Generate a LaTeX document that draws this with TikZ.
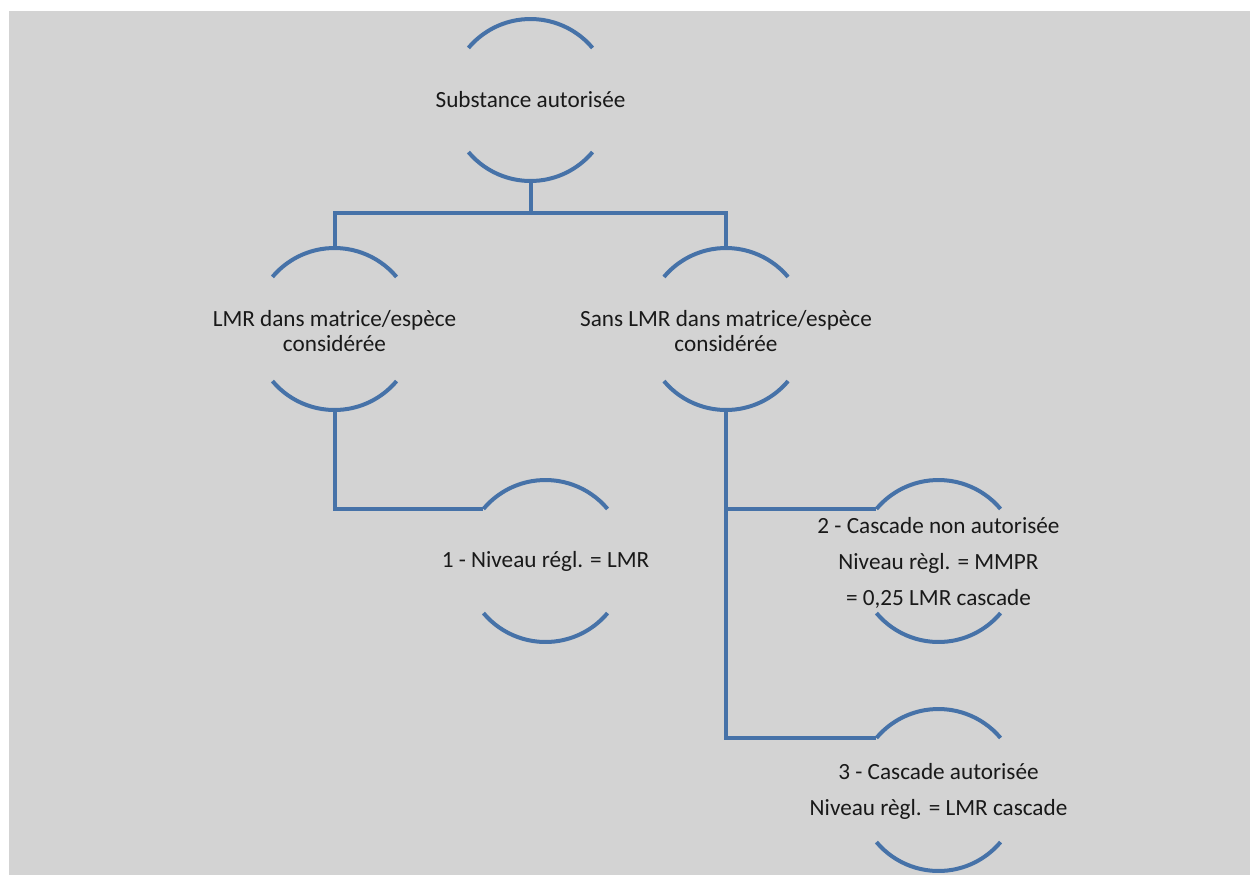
\documentclass[tikz,border=0pt]{standalone}
\usepackage{fontspec}
\setmainfont{Carlito}
\definecolor{bg}{RGB}{211,211,211}
\definecolor{ln}{RGB}{70,114,168}
\definecolor{tx}{RGB}{25,25,25}
\tikzset{
  ring/.style={circle, draw=none, minimum size=81pt, inner sep=0pt, outer sep=0pt},
  lbl/.style={align=center, text=tx, font=\fontsize{11.6}{12.3}\selectfont, inner sep=0pt},
  lbl2/.style={align=center, text=tx, font=\fontsize{11.6}{18}\selectfont, inner sep=0pt},
  arcline/.style={draw=ln, line width=2pt},
  conn/.style={draw=ln, line width=2pt}
}
\newcommand{\ringarcs}[1]{%
  \draw[arcline] (#1.40) arc[start angle=40,end angle=140,radius=40.5pt];
  \draw[arcline] (#1.220) arc[start angle=220,end angle=320,radius=40.5pt];
}
\begin{document}
\begin{tikzpicture}[x=0.5pt,y=0.5pt]
\useasboundingbox (0,0) rectangle (1250,-875);
\fill[bg] (9,-11) rectangle (1250,-875);

\node[ring] (top) at (530.5,-100) {};
\node[ring] (lmr) at (334.5,-329) {};
\node[ring] (sans) at (726,-329) {};
\node[ring] (n1) at (545.5,-561) {};
\node[ring] (n2) at (938.5,-561) {};
\node[ring] (n3) at (938.5,-790) {};

\foreach \n in {top,lmr,sans,n1,n2,n3} {\ringarcs{\n}}

\node[lbl] (topt) at (530.5,-100) {Substance autorisée};
\node[lbl] (lmrt) at (334.5,-331) {LMR dans matrice/espèce\\considérée};
\node[lbl] (sanst) at (726,-331) {Sans LMR dans matrice/espèce\\considérée};
\node[lbl] (n1t) at (545.5,-561) {1 - Niveau régl. = LMR};
\node[lbl2] (n2t) at (938.5,-563) {2 - Cascade non autorisée\\Niveau règl. = MMPR\\= 0,25 LMR cascade};
\node[lbl2] (n3t) at (938.5,-791) {3 - Cascade autorisée\\Niveau règl. = LMR cascade};

\coordinate (j) at (530.5,-213);
\draw[conn] (top.south) -- (j);
\draw[conn] (lmr.north) |- (j) -| (sans.north);
\draw[conn] (lmr.south) |- (n1.140);
\draw[conn] (sans.south) |- (n3.140);
\draw[conn] (sans.south |- n2.140) -- (n2.140);
\end{tikzpicture}
\end{document}
